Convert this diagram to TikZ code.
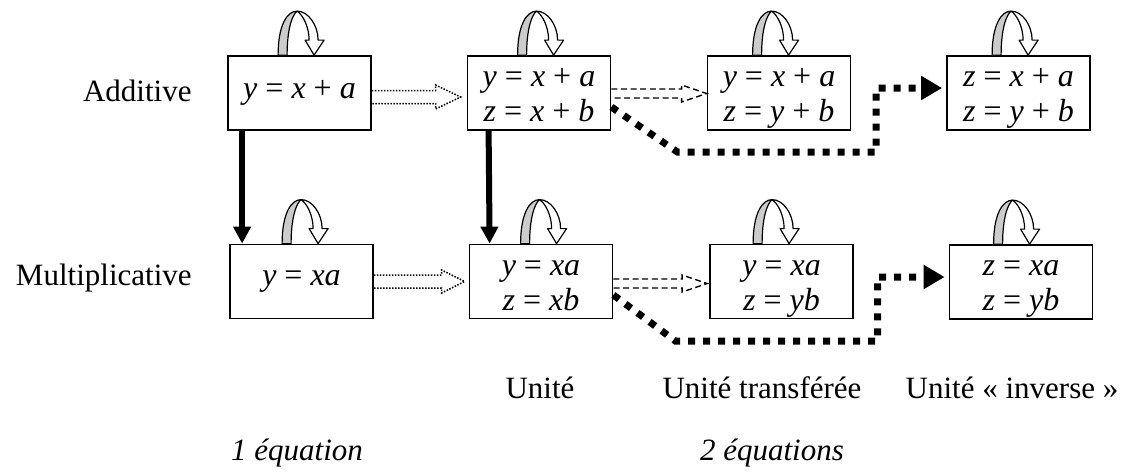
\documentclass[tikz,border=0pt]{standalone}
\usepackage{fontspec}
\setmainfont{Liberation Serif}
\usetikzlibrary{arrows.meta,calc}
\newcommand\iv[1]{\textit{#1}}
\newcommand\eqtwo[2]{\raisebox{-2pt}[\height][\depth]{\begin{tabular}{@{}c@{}}#1\\#2\end{tabular}}}
\begin{document}
\begin{tikzpicture}[x=0.5pt,y=-0.5pt,
  eqbox/.style={draw, line width=0.9pt, minimum width=71.5pt, minimum height=37pt,
    inner sep=0pt, align=center, font=\fontsize{16}{17.5}\selectfont},
  lab/.style={inner sep=0pt, font=\fontsize{15.5}{18}\selectfont},
  hollowdot/.style={line width=0.75pt, dash pattern=on 0.75pt off 0.75pt},
  hollowdash/.style={line width=0.7pt, dash pattern=on 3pt off 1.8pt},
  thickdot/.style={line width=3.5pt, dash pattern=on 3.5pt off 4pt,
    -{Triangle[width=11.5pt,length=10.5pt]}},
  solidarr/.style={line width=3pt, -{Triangle[width=8.5pt,length=8.5pt]}},
  selfloop/.pic={
    \filldraw[fill=gray!40, line width=0.6pt, line join=round]
      (0,-44) .. controls (-10,-44) and (-19,-30) .. (-19,0) -- (-10,0)
      .. controls (-10,-26) and (-5,-40) .. (0,-44) -- cycle;
    \filldraw[fill=white, line width=0.6pt, line join=round]
      (0,-44) .. controls (11,-44) and (21,-30) .. (21,-15) -- (27,-15) -- (17,0)
      -- (8,-15) -- (12,-15) .. controls (12,-28) and (6,-40) .. (0,-44) -- cycle;
  }]
\useasboundingbox (0,0) rectangle (1129,473);

% boxes
\node[eqbox] (b1) at (299.5,93) {\iv{y} = \iv{x} + \iv{a}};
\node[eqbox] (b2) at (539,93) {\eqtwo{\iv{y} = \iv{x} + \iv{a}}{\iv{z} = \iv{x} + \iv{b}}};
\node[eqbox] (b3) at (779,93) {\eqtwo{\iv{y} = \iv{x} + \iv{a}}{\iv{z} = \iv{y} + \iv{b}}};
\node[eqbox] (b4) at (1018.5,93) {\eqtwo{\iv{z} = \iv{x} + \iv{a}}{\iv{z} = \iv{y} + \iv{b}}};
\node[eqbox] (b5) at (301.5,281.5) {\iv{y} = \iv{xa}};
\node[eqbox] (b6) at (541,281.5) {\eqtwo{\iv{y} = \iv{xa}}{\iv{z} = \iv{xb}}};
\node[eqbox] (b7) at (781.5,281.5) {\eqtwo{\iv{y} = \iv{xa}}{\iv{z} = \iv{yb}}};
\node[eqbox] (b8) at (1021,282) {\eqtwo{\iv{z} = \iv{xa}}{\iv{z} = \iv{yb}}};

% self loops
\pic at ($(b1.north west)+(70,0)$) {selfloop};
\pic at ($(b2.north west)+(70,0)$) {selfloop};
\pic at ($(b3.north west)+(65,0)$) {selfloop};
\pic at ($(b4.north west)+(65,0)$) {selfloop};
\pic at ($(b5.north west)+(72,0)$) {selfloop};
\pic at ($(b6.north west)+(71,0)$) {selfloop};
\pic at ($(b7.north west)+(63,0)$) {selfloop};
\pic at ($(b8.north west)+(64,0)$) {selfloop};

% row labels
\node[lab, anchor=base east] (ladd) at (192,101) {Additive};
\node[lab, anchor=base east] (lmul) at (192,285) {Multiplicative};

% bottom labels
\node[lab, anchor=base] (lu1) at (540,398) {Unité};
\node[lab, anchor=base] (lu2) at (762,398) {Unité transférée};
\node[lab, anchor=base] (lu3) at (1012,398) {Unité « inverse »};
\node[lab, anchor=base] (le1) at (297,460) {\itshape 1 équation};
\node[lab, anchor=base] (le2) at (772,460) {\itshape 2 équations};

% hollow dotted block arrows
\draw[hollowdot] ($(b1.east)+(0,-2.5)$) -- ($(b2.west)+(-31,-2.5)$) -- ++(0,-5.5)
  -- ++(25,12) -- ++(-25,12) -- ++(0,-5.5) -- ($(b1.east)+(0,10.5)$);
\draw[hollowdot] ($(b5.east)+(0,-6.5)$) -- ($(b6.west)+(-27,-6.5)$) -- ++(0,-5)
  -- ++(23,11.5) -- ++(-23,11.5) -- ++(0,-5) -- ($(b5.east)+(0,6.5)$);

% hollow dashed block arrows
\draw[hollowdash] ($(b2.east)+(0,-4)$) -- ($(b3.west)+(-25,-4)$) -- ++(0,-4)
  -- ++(25,8.5) -- ++(-25,8.5) -- ++(0,-4) -- ($(b2.east)+(0,5)$);
\draw[hollowdash] ($(b6.east)+(0,-2.5)$) -- ($(b7.west)+(-27,-2.5)$) -- ++(0,-4)
  -- ++(25,8.5) -- ++(-25,8.5) -- ++(0,-4) -- ($(b6.east)+(0,6.5)$);

% thick dotted connectors
\draw[thickdot] ($(b2.east)+(0,14)$) -- ($(b2.east)+(66,59)$) -- ($(b4.west)+(-70,59)$)
  -- ($(b4.west)+(-70,-5)$) -- ($(b4.west)+(-4,-5)$);
\draw[thickdot] ($(b6.east)+(0,13.5)$) -- ($(b6.east)+(62,59.5)$) -- ($(b8.west)+(-71,59)$)
  -- ($(b8.west)+(-71,-5)$) -- ($(b8.west)+(-4,-5)$);

% solid vertical arrows
\draw[solidarr] ($(b1.south west)+(15,0)$) -- ($(b5.north west)+(13,0)$);
\draw[solidarr] ($(b2.south west)+(22,0)$) -- ($(b6.north west)+(21,0)$);
\end{tikzpicture}
\end{document}
